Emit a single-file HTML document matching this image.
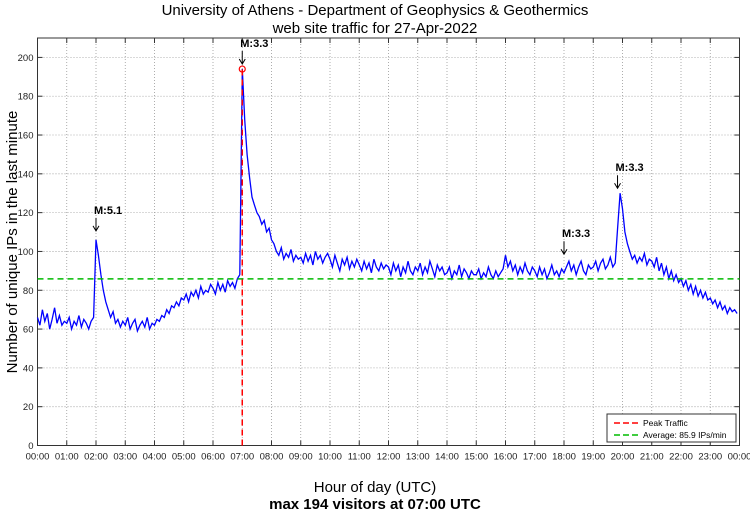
<!DOCTYPE html>
<html><head><meta charset="utf-8"><style>
body{margin:0;background:#fff;width:750px;height:511px;overflow:hidden}
svg{font-family:"Liberation Sans",sans-serif}
</style></head><body>
<svg id="chart" width="750" height="511">
<text x="375" y="15" font-size="15" text-anchor="middle">University of Athens - Department of Geophysics &amp; Geothermics</text>
<text x="375" y="33" font-size="15" text-anchor="middle">web site traffic for 27-Apr-2022</text>
<text x="375" y="492" font-size="15" text-anchor="middle">Hour of day (UTC)</text>
<text x="375" y="509" font-size="15" font-weight="bold" text-anchor="middle">max 194 visitors at 07:00 UTC</text>
<text transform="translate(17,242) rotate(-90)" font-size="15" text-anchor="middle">Number of unique IPs in the last minute</text>
<g id="grid"></g><g id="series"></g><g id="overlay"></g>
</svg>
<script>
const hourLabels=["00:00","01:00","02:00","03:00","04:00","05:00","06:00","07:00","08:00","09:00","10:00","11:00","12:00","13:00","14:00","15:00","16:00","17:00","18:00","19:00","20:00","21:00","22:00","23:00","00:00"];
const yTicks=[0,20,40,60,80,100,120,140,160,180,200];
const traffic=[
66,62,70,64,68,60,65,71,63,67,62,64,
63,66,60,64,62,67,61,65,63,60,64,66,
106,98,88,80,74,70,66,69,63,65,61,64,
62,66,60,63,65,59,62,64,61,66,60,63,
62,65,64,67,66,70,68,72,71,74,72,76,
75,78,74,79,77,80,76,82,78,80,79,83,
81,78,84,80,83,79,85,82,84,81,86,88,
194,168,150,138,128,124,120,118,114,116,110,112,
106,104,100,98,102,96,99,97,101,95,98,96,
97,94,99,95,98,93,100,96,98,94,97,99,
96,92,98,94,90,96,93,97,91,95,92,96,
93,90,95,91,94,89,96,92,90,94,91,93,
92,88,94,90,93,87,92,89,95,90,88,92,
90,94,88,92,89,95,91,87,93,90,92,88,
89,92,86,90,88,93,87,91,89,86,90,88,
88,91,86,89,87,92,88,86,90,87,89,91,
98,92,95,90,93,88,92,89,94,90,88,92,
90,87,92,88,91,86,89,93,88,90,87,91,
89,92,95,90,93,88,92,95,90,88,93,91,
92,95,90,94,96,91,93,97,92,94,112,130,
122,110,104,100,96,98,94,97,95,99,93,96,
95,92,97,90,94,88,92,86,90,85,88,84,
86,82,85,80,83,78,82,77,80,76,79,75,
76,73,75,71,74,70,72,68,71,69,70,68];
const stepMinutes=5;
const average=85.9;
const peakValue=194, peakHour=7;
const quakes=[{h:2,label:"M:5.1",v:108},{h:7,label:"M:3.3",v:194},{h:18,label:"M:3.3",v:96},{h:19.83,label:"M:3.3",v:130}];
const L=37.5,R=739.5,T=38,B=445.5,YMAX=210;
const x=h=>L+(R-L)*h/24, y=v=>B-(B-T)*v/YMAX;
const NS="http://www.w3.org/2000/svg";
function mk(p,t,a){const e=document.createElementNS(NS,t);for(const k in a)e.setAttribute(k,a[k]);p.appendChild(e);return e;}
const g=document.getElementById("grid"),s=document.getElementById("series"),o=document.getElementById("overlay");
hourLabels.forEach((lb,i)=>{const xx=x(i);
 if(i>0&&i<24){const l=mk(g,"line",{x1:xx,x2:xx,y1:T,y2:B,stroke:"#999","stroke-dasharray":"1,2","stroke-width":0.8});
 mk(g,"line",{x1:xx,x2:xx,y1:B,y2:B-5,stroke:"#333"});mk(g,"line",{x1:xx,x2:xx,y1:T,y2:T+5,stroke:"#333"});}
 const t=mk(g,"text",{x:xx,y:B+14,"font-size":9.5,"text-anchor":"middle",fill:"#222"});t.textContent=lb;
 });
yTicks.forEach(v=>{const yy=y(v);
 if(v>0){const l=mk(g,"line",{x1:L,x2:R,y1:yy,y2:yy,stroke:"#999","stroke-dasharray":"1,2","stroke-width":0.8});
 mk(g,"line",{x1:L,x2:L+5,y1:yy,y2:yy,stroke:"#333"});mk(g,"line",{x1:R,x2:R-5,y1:yy,y2:yy,stroke:"#333"});}
 const t=mk(g,"text",{x:L-4,y:yy+3.5,"font-size":9.5,"text-anchor":"end",fill:"#222"});t.textContent=v;
 });
const fr=mk(g,"rect",{x:L,y:T,width:R-L,height:B-T,fill:"none",stroke:"#333"});

const pts=traffic.map((v,i)=>x(i*stepMinutes/60).toFixed(1)+","+y(v).toFixed(1)).join(" ");
const pl=mk(s,"polyline",{points:pts,fill:"none",stroke:"#0000ff","stroke-width":1.3});

const av=mk(o,"line",{x1:L,x2:R,y1:y(average),y2:y(average),stroke:"#00bb00","stroke-width":1.5,"stroke-dasharray":"6,4"});

const pk=mk(o,"line",{x1:x(peakHour),x2:x(peakHour),y1:B,y2:y(peakValue),stroke:"#ff0000","stroke-width":1.5,"stroke-dasharray":"6,4"});

const pc=mk(o,"circle",{cx:x(peakHour),cy:y(peakValue),r:3,fill:"none",stroke:"#ff0000","stroke-width":1.2});

quakes.forEach(q=>{const xx=x(q.h),ty=y(q.v)-22;
 const t=mk(o,"text",{x:xx-2,y:ty,"font-size":11,"font-weight":"bold"});t.textContent=q.label;
 
 const a=mk(o,"path",{d:`M${xx},${ty+4}V${ty+17}M${xx-3},${ty+12}L${xx},${ty+17}L${xx+3},${ty+12}`,fill:"none",stroke:"#000"});
 });
const lg=mk(o,"g",{});
mk(lg,"rect",{x:607,y:414,width:129,height:28,fill:"#fff",stroke:"#333"});
[["Peak Traffic","#ff0000",426],["Average: 85.9 IPs/min","#00bb00",438]].forEach(([lb,c,yy])=>{
 mk(lg,"line",{x1:614,x2:638,y1:yy-3,y2:yy-3,stroke:c,"stroke-width":1.5,"stroke-dasharray":"6,3"});
 const t=mk(lg,"text",{x:643,y:yy,"font-size":8.5});t.textContent=lb;
 });
</script>
</body></html>
